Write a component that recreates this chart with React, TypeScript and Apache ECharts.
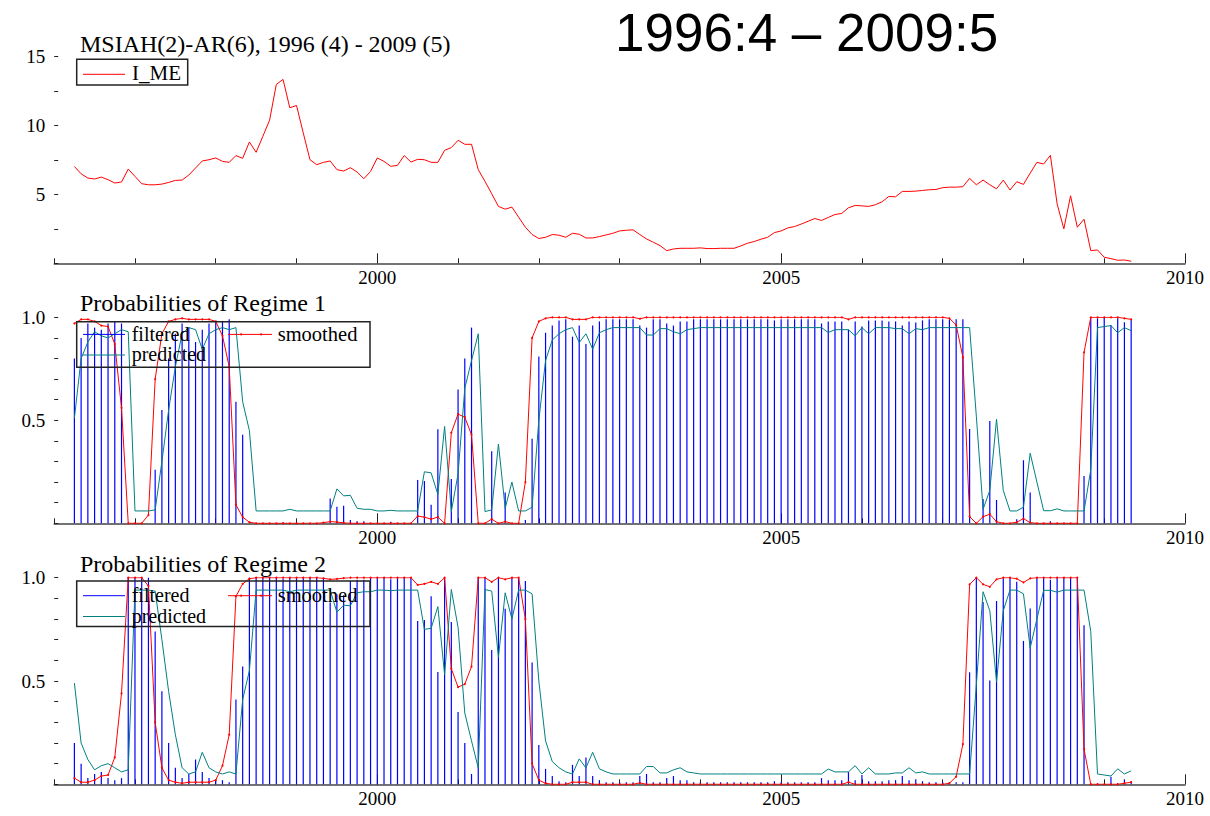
import React, { useEffect, useRef } from "react";
import * as echarts from "echarts";

// ---- data (monthly, 1996:4 - 2009:5) ----
const START_YEAR = 1996;
const START_MONTH = 4;
const YEAR_LABELS = [2000, 2005, 2010];

const I_ME: number[] = [
  7.03, 6.5, 6.19, 6.12, 6.26, 6.07, 5.83, 5.9, 6.84,
  6.31, 5.78, 5.7, 5.7, 5.75, 5.87, 6.02, 6.04, 6.41, 6.92, 7.43, 7.52,
  7.65, 7.4, 7.33, 7.82, 7.62, 8.81, 8.06, 9.22, 10.39, 12.99, 13.35, 11.29,
  11.46, 9.47, 7.52, 7.16, 7.33, 7.43, 6.8, 6.7, 6.94, 6.63, 6.14, 6.67,
  7.65, 7.4, 7.04, 7.11, 7.82, 7.35, 7.55, 7.52, 7.33, 7.33, 8.2, 8.4,
  8.93, 8.64, 8.64, 6.8, 5.95, 5.05, 4.13, 3.93, 4.08, 3.35, 2.62, 2.09,
  1.8, 1.89, 2.09, 2.04, 1.89, 2.18, 2.11, 1.84, 1.84, 1.94, 2.06, 2.18,
  2.35, 2.4, 2.43, 2.09, 1.77, 1.53, 1.29, 0.92, 1.04, 1.09, 1.09, 1.09,
  1.12, 1.07, 1.07, 1.09, 1.09, 1.09, 1.26, 1.46, 1.58, 1.75, 1.89, 2.23,
  2.35, 2.57, 2.67, 2.85, 3.05, 3.25, 3.11, 3.33, 3.54, 3.62, 4.03, 4.2,
  4.17, 4.13, 4.25, 4.47, 4.85, 4.83, 5.22, 5.22, 5.24, 5.29, 5.34, 5.36,
  5.49, 5.53, 5.53, 5.56, 6.17, 5.7, 6.04, 5.7, 5.41, 6.04, 5.32, 5.92,
  5.73, 6.55, 7.33, 7.21, 7.84, 4.32, 2.5, 4.9, 2.62, 3.2, 0.92, 0.97,
  0.44, 0.34, 0.22, 0.24, 0.15,
];

const FILTERED_1: number[] = [
  0.8, 0.9, 0.97, 0.95, 0.94, 0.97, 0.98, 0.97, 0,
  0, 0, 0, 0.26, 0.55, 0.8, 0.92, 0.97, 0.95, 0.88, 0.94, 0.97,
  0.98, 0.98, 0.99, 0.59, 0.43, 0, 0, 0, 0, 0, 0.005, 0,
  0, 0, 0, 0, 0, 0.12, 0.08, 0.085, 0.016, 0.01, 0.01, 0,
  0, 0, 0.008, 0, 0, 0, 0.21, 0.205, 0.09, 0.456, 0, 0.215,
  0.65, 0.8, 0.95, 0, 0, 0.35, 0, 0.15, 0, 0, 0.016, 0.41,
  0.81, 0.925, 0.96, 0.985, 0.99, 0.906, 0.96, 0.87, 0.96, 0.98, 0.99, 0.99,
  0.99, 0.99, 0.99, 0.96, 0.95, 0.99, 0.99, 0.97, 0.96, 0.98, 0.98, 0.99,
  0.99, 0.99, 0.99, 0.99, 0.99, 0.99, 0.99, 0.99, 0.99, 0.99, 0.99, 0.985,
  0.99, 0.99, 0.99, 0.99, 0.99, 0.99, 0.97, 0.98, 0.98, 0.98, 0.94, 0.98,
  0.955, 0.985, 0.985, 0.985, 0.98, 0.98, 0.96, 0.98, 0.975, 0.985, 0.99, 0.99,
  0.99, 0.99, 0.99, 0.99, 0.458, 0, 0.118, 0.497, 0.113, 0, 0, 0.02,
  0.306, 0.149, 0, 0, 0.01, 0, 0, 0, 0, 0.23, 1, 0.995,
  1, 0.963, 0.995, 0.976, 0.987,
];

const SMOOTHED_1: number[] = [
  0.97, 0.99, 0.99, 0.98, 0.96, 0.955, 0.87, 0.56, 0,
  0, 0, 0.04, 0.7, 0.92, 0.98, 0.99, 0.995, 0.99, 0.99, 0.99, 0.99,
  0.98, 0.91, 0.76, 0.09, 0.03, 0.005, 0, 0, 0, 0, 0, 0,
  0, 0, 0, 0, 0.003, 0.008, 0.006, 0.002, 0, 0, 0, 0,
  0, 0, 0, 0, 0, 0, 0.035, 0.03, 0.02, 0.03, 0, 0.44,
  0.53, 0.515, 0.43, 0, 0, 0.02, 0, 0.008, 0, 0, 0.2, 0.9,
  0.98, 0.995, 1, 1, 1, 0.99, 0.99, 0.99, 1, 1, 1, 1,
  1, 1, 1, 0.993, 1, 1, 1, 1, 1, 1, 1, 1,
  1, 1, 1, 1, 1, 1, 1, 1, 1, 1, 1, 1,
  1, 1, 1, 1, 1, 1, 1, 1, 1, 1, 0.99, 1,
  1, 1, 1, 1, 1, 1, 1, 1, 1, 1, 1, 1,
  1, 0.995, 0.963, 0.806, 0.032, 0, 0.032, 0.044, 0.008, 0, 0, 0.005,
  0.023, 0.003, 0, 0, 0, 0, 0, 0, 0, 0.83, 1, 1,
  1, 1, 1, 0.995, 0.99,
];

const PREDICTED_1: number[] = [
  0.51, 0.8, 0.88, 0.93, 0.91, 0.9, 0.92, 0.94, 0.93,
  0.06, 0.06, 0.06, 0.065, 0.3, 0.55, 0.76, 0.92, 0.95, 0.94, 0.845, 0.92,
  0.94, 0.95, 0.94, 0.95, 0.59, 0.45, 0.06, 0.06, 0.06, 0.06, 0.06, 0.068,
  0.06, 0.06, 0.06, 0.06, 0.06, 0.06, 0.167, 0.133, 0.136, 0.073, 0.068, 0.068,
  0.06, 0.06, 0.063, 0.06, 0.06, 0.06, 0.06, 0.25, 0.245, 0.14, 0.47, 0.057,
  0.24, 0.655, 0.79, 0.92, 0.057, 0.065, 0.385, 0.073, 0.2, 0.06, 0.06, 0.078,
  0.5, 0.79, 0.89, 0.92, 0.94, 0.95, 0.877, 0.92, 0.845, 0.925, 0.94, 0.95,
  0.95, 0.95, 0.95, 0.95, 0.914, 0.914, 0.945, 0.945, 0.93, 0.92, 0.94, 0.945,
  0.95, 0.95, 0.95, 0.95, 0.95, 0.95, 0.95, 0.95, 0.95, 0.95, 0.95, 0.95,
  0.95, 0.95, 0.95, 0.95, 0.95, 0.95, 0.95, 0.926, 0.94, 0.94, 0.94, 0.91,
  0.95, 0.92, 0.95, 0.95, 0.95, 0.945, 0.945, 0.92, 0.945, 0.94, 0.95, 0.95,
  0.95, 0.95, 0.95, 0.95, 0.95, 0.52, 0.068, 0.16, 0.505, 0.16, 0.06, 0.06,
  0.078, 0.34, 0.2, 0.061, 0.061, 0.07, 0.06, 0.06, 0.06, 0.06, 0.26, 0.95,
  0.955, 0.96, 0.925, 0.95, 0.935,
];

const FILTERED_2: number[] = [
  0.2, 0.1, 0.03, 0.05, 0.06, 0.03, 0.02, 0.03, 1,
  1, 1, 1, 0.74, 0.45, 0.2, 0.08, 0.03, 0.05, 0.12, 0.06, 0.03,
  0.02, 0.02, 0.01, 0.41, 0.57, 1, 1, 1, 1, 1, 0.995, 1,
  1, 1, 1, 1, 1, 0.88, 0.92, 0.915, 0.984, 0.99, 0.99, 1,
  1, 1, 0.992, 1, 1, 1, 0.79, 0.795, 0.91, 0.544, 1, 0.785,
  0.35, 0.2, 0.05, 1, 1, 0.65, 1, 0.85, 1, 1, 0.984, 0.59,
  0.19, 0.075, 0.04, 0.015, 0.01, 0.094, 0.04, 0.13, 0.04, 0.02, 0.01, 0.01,
  0.01, 0.01, 0.01, 0.04, 0.05, 0.01, 0.01, 0.03, 0.04, 0.02, 0.02, 0.01,
  0.01, 0.01, 0.01, 0.01, 0.01, 0.01, 0.01, 0.01, 0.01, 0.01, 0.01, 0.015,
  0.01, 0.01, 0.01, 0.01, 0.01, 0.01, 0.03, 0.02, 0.02, 0.02, 0.06, 0.02,
  0.045, 0.015, 0.015, 0.015, 0.02, 0.02, 0.04, 0.02, 0.025, 0.015, 0.01, 0.01,
  0.01, 0.01, 0.01, 0.01, 0.542, 1, 0.882, 0.503, 0.887, 1, 1, 0.98,
  0.694, 0.851, 1, 1, 0.99, 1, 1, 1, 1, 0.77, 0, 0.005,
  0, 0.037, 0.005, 0.024, 0.013,
];

const SMOOTHED_2: number[] = [
  0.03, 0.01, 0.01, 0.02, 0.04, 0.045, 0.13, 0.44, 1,
  1, 1, 0.96, 0.3, 0.08, 0.02, 0.01, 0.005, 0.01, 0.01, 0.01, 0.01,
  0.02, 0.09, 0.24, 0.91, 0.97, 0.995, 1, 1, 1, 1, 1, 1,
  1, 1, 1, 1, 0.997, 0.992, 0.994, 0.998, 1, 1, 1, 1,
  1, 1, 1, 1, 1, 1, 0.965, 0.97, 0.98, 0.97, 1, 0.56,
  0.47, 0.485, 0.57, 1, 1, 0.98, 1, 0.992, 1, 1, 0.8, 0.1,
  0.02, 0.005, 0, 0, 0, 0.01, 0.01, 0.01, 0, 0, 0, 0,
  0, 0, 0, 0.007, 0, 0, 0, 0, 0, 0, 0, 0,
  0, 0, 0, 0, 0, 0, 0, 0, 0, 0, 0, 0,
  0, 0, 0, 0, 0, 0, 0, 0, 0, 0, 0.01, 0,
  0, 0, 0, 0, 0, 0, 0, 0, 0, 0, 0, 0,
  0, 0.005, 0.037, 0.194, 0.968, 1, 0.968, 0.956, 0.992, 1, 1, 0.995,
  0.977, 0.997, 1, 1, 1, 1, 1, 1, 1, 0.17, 0, 0,
  0, 0, 0, 0.005, 0.01,
];

const PREDICTED_2: number[] = [
  0.49, 0.2, 0.12, 0.07, 0.09, 0.1, 0.08, 0.06, 0.07,
  0.94, 0.94, 0.94, 0.935, 0.7, 0.45, 0.24, 0.08, 0.05, 0.06, 0.155, 0.08,
  0.06, 0.05, 0.06, 0.05, 0.41, 0.55, 0.94, 0.94, 0.94, 0.94, 0.94, 0.932,
  0.94, 0.94, 0.94, 0.94, 0.94, 0.94, 0.833, 0.867, 0.864, 0.927, 0.932, 0.932,
  0.94, 0.94, 0.937, 0.94, 0.94, 0.94, 0.94, 0.75, 0.755, 0.86, 0.53, 0.943,
  0.76, 0.345, 0.21, 0.08, 0.943, 0.935, 0.615, 0.927, 0.8, 0.94, 0.94, 0.922,
  0.5, 0.21, 0.11, 0.08, 0.06, 0.05, 0.123, 0.08, 0.155, 0.075, 0.06, 0.05,
  0.05, 0.05, 0.05, 0.05, 0.086, 0.086, 0.055, 0.055, 0.07, 0.08, 0.06, 0.055,
  0.05, 0.05, 0.05, 0.05, 0.05, 0.05, 0.05, 0.05, 0.05, 0.05, 0.05, 0.05,
  0.05, 0.05, 0.05, 0.05, 0.05, 0.05, 0.05, 0.074, 0.06, 0.06, 0.06, 0.09,
  0.05, 0.08, 0.05, 0.05, 0.05, 0.055, 0.055, 0.08, 0.055, 0.06, 0.05, 0.05,
  0.05, 0.05, 0.05, 0.05, 0.05, 0.48, 0.932, 0.84, 0.495, 0.84, 0.94, 0.94,
  0.922, 0.66, 0.8, 0.939, 0.939, 0.93, 0.94, 0.94, 0.94, 0.94, 0.74, 0.05,
  0.045, 0.04, 0.075, 0.05, 0.065,
];

// ---- styling ----
const SERIF = "Liberation Serif, serif";
const SANS = "Liberation Sans, sans-serif";
const RED = "#ff0000";
const BLUE = "#0000ff";
const TEAL = "#008080";
const AXIS = "#444";

const GRID_LEFT = 54.2;
const GRID_WIDTH = 1130.8;
const GRID_TOPS = [56.7, 317.3, 577.7];
const GRID_HEIGHTS = [206.6, 206, 206.6];

function toPoints(values: number[]) {
  return values.map((v, i) => [START_YEAR + (START_MONTH - 1 + i) / 12, v]);
}

const tickLabelStyle = {
  color: "#000",
  fontFamily: SERIF,
  fontSize: 19,
};

function xMain(gi: number) {
  return {
    type: "value",
    gridIndex: gi,
    min: 1996,
    max: 2010,
    interval: 1,
    position: "bottom",
    axisLine: { show: true, onZero: false, lineStyle: { color: AXIS, width: 1.5 } },
    axisTick: { show: true, inside: true, length: 5, lineStyle: { color: "#222" } },
    axisLabel: {
      show: true,
      customValues: YEAR_LABELS,
      formatter: (v: number) => String(v),
      margin: 5,
      ...tickLabelStyle,
    },
    splitLine: { show: false },
  };
}

function xMajor(gi: number) {
  return {
    type: "value",
    gridIndex: gi,
    min: 1996,
    max: 2010,
    interval: 1,
    position: "bottom",
    axisLine: { show: false, onZero: false },
    axisTick: {
      show: true,
      inside: true,
      length: 10,
      customValues: YEAR_LABELS,
      lineStyle: { color: "#222" },
    },
    axisLabel: { show: false },
    splitLine: { show: false },
  };
}

function yAxis(gi: number, max: number, interval: number, fmt: (v: number) => string) {
  return {
    type: "value",
    gridIndex: gi,
    min: 0,
    max,
    interval,
    axisLine: { show: false },
    axisTick: { show: true, inside: true, length: 4, lineStyle: { color: "#222" } },
    axisLabel: { formatter: fmt, margin: 9, ...tickLabelStyle },
    splitLine: { show: false },
  };
}

const probFmt = (v: number) =>
  Math.abs(v - 0.5) < 1e-6 ? "0.5" : Math.abs(v - 1) < 1e-6 ? "1.0" : "";

function txt(text: string, x: number, y: number, size: number, family = SERIF, align = "left") {
  return {
    type: "text",
    x,
    y,
    z: 100,
    style: {
      text,
      fill: "#000",
      fontSize: size,
      fontFamily: family,
      textAlign: align,
      textVerticalAlign: "middle",
    },
  };
}

function seg(x1: number, x2: number, y: number, color: string) {
  return {
    type: "line",
    z: 100,
    shape: { x1, y1: y, x2, y2: y },
    style: { stroke: color, lineWidth: 1 },
  };
}

function box(x: number, y: number, w: number, h: number) {
  return {
    type: "rect",
    z: 99,
    shape: { x, y, width: w, height: h },
    style: { fill: "none", stroke: "#222", lineWidth: 1.5 },
  };
}

function dot(x: number, y: number) {
  return { type: "circle", z: 100, shape: { cx: x, cy: y, r: 1 }, style: { fill: RED } };
}

function probLegend(top: number, row1: number, row2: number) {
  return [
    box(76.7, top, 293.3, 45.5),
    seg(83, 125, row1, BLUE),
    txt("filtered", 131.7, row1 - 0.8, 20),
    seg(228, 272, row1, RED),
    dot(241, row1),
    dot(261, row1),
    txt("smoothed", 277.7, row1 - 0.8, 20.5),
    seg(83, 125, row2, TEAL),
    txt("predicted", 131.7, row2 - 0.8, 20),
  ];
}

export default function App() {
  const ref = useRef<HTMLDivElement>(null);

  useEffect(() => {
    if (!ref.current) return;
    const chart = echarts.init(ref.current, null, { renderer: "svg" });

    const probSeries = (gi: number, f: number[], s: number[], p: number[]) => [
      {
        type: "bar",
        name: "filtered",
        xAxisIndex: gi * 2,
        yAxisIndex: gi,
        data: toPoints(f),
        barWidth: 1.2,
        itemStyle: { color: BLUE },
      },
      {
        type: "line",
        name: "smoothed",
        xAxisIndex: gi * 2,
        yAxisIndex: gi,
        data: toPoints(s),
        symbol: "circle",
        symbolSize: 2,
        lineStyle: { color: RED, width: 1 },
        itemStyle: { color: RED },
      },
      {
        type: "line",
        name: "predicted",
        xAxisIndex: gi * 2,
        yAxisIndex: gi,
        data: toPoints(p),
        symbol: "none",
        lineStyle: { color: TEAL, width: 1 },
        itemStyle: { color: TEAL },
      },
    ];

    const option: any = {
      animation: false,
      backgroundColor: "#fff",
      textStyle: { fontFamily: SERIF },
      grid: GRID_TOPS.map((t, i) => ({
        left: GRID_LEFT,
        top: t,
        width: GRID_WIDTH,
        height: GRID_HEIGHTS[i],
      })),
      xAxis: [xMain(0), xMajor(0), xMain(1), xMajor(1), xMain(2), xMajor(2)],
      yAxis: [
        yAxis(0, 15, 2.5, (v: number) => (v > 0 && Math.abs(v % 5) < 1e-6 ? String(v) : "")),
        yAxis(1, 1, 0.1, probFmt),
        yAxis(2, 1, 0.1, probFmt),
      ],
      series: [
        {
          type: "line",
          name: "I_ME",
          xAxisIndex: 0,
          yAxisIndex: 0,
          data: toPoints(I_ME),
          symbol: "none",
          lineStyle: { color: RED, width: 1 },
          itemStyle: { color: RED },
        },
        ...probSeries(1, FILTERED_1, SMOOTHED_1, PREDICTED_1),
        ...probSeries(2, FILTERED_2, SMOOTHED_2, PREDICTED_2),
      ],
      graphic: [
        txt("1996:4 \u2013 2009:5", 615, 32.6, 53, SANS),
        txt("MSIAH(2)-AR(6), 1996 (4) - 2009 (5)", 80, 43.6, 24),
        box(76.7, 59.3, 111, 25.7),
        seg(83, 125, 74.3, RED),
        txt("I_ME", 132, 73.4, 21),
        txt("Probabilities of Regime 1", 80, 302.6, 24),
        ...probLegend(321.7, 334.4, 355),
        txt("Probabilities of Regime 2", 80, 564.2, 24),
        ...probLegend(581, 595.7, 616.5),
      ],
    };

    chart.setOption(option);
    return () => chart.dispose();
  }, []);

  return (
    <div
      ref={ref}
      style={{ position: "fixed", left: 0, top: 0, width: 1210, height: 816, background: "#fff" }}
    />
  );
}
